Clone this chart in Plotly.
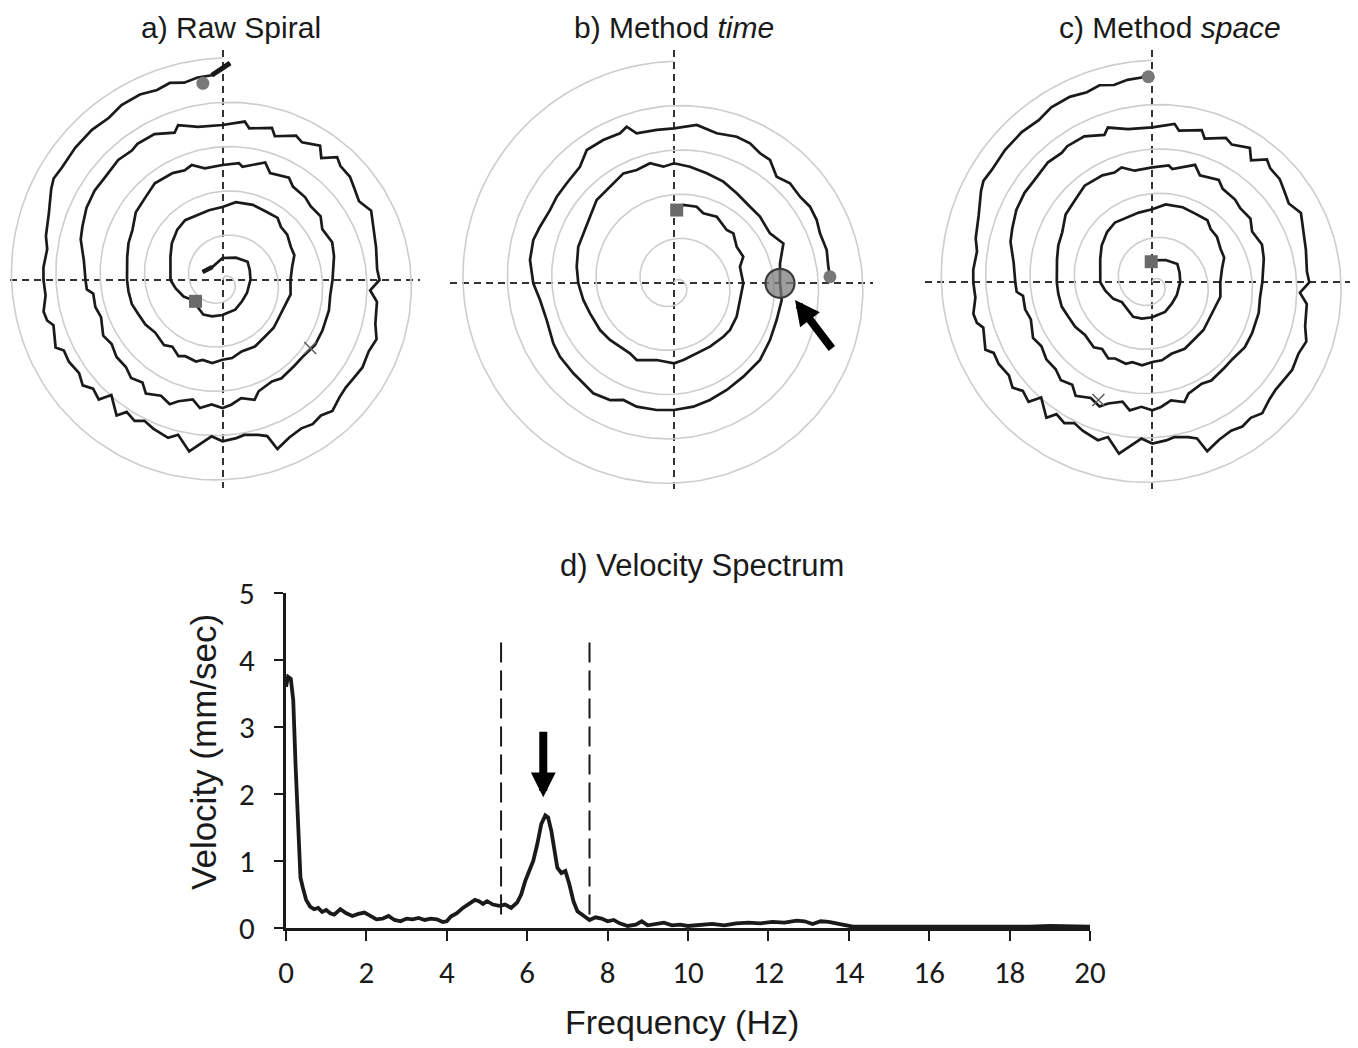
import numpy as np
import plotly.graph_objects as go

W, H = 1358, 1048
OFF = 8  # the page body adds an 8px offset; compensate so paper px match the target

# ------------------------------------------------------------------
# Spiral pen data.
# Each point: (clockwise angle from 12 o'clock, cumulative degrees, radius in tablet units)
# ------------------------------------------------------------------
raw_lead_in = [(-68, 21.5), (-38, 16.5)]
raw_turn0 = [(0, 22), (31, 26), (54, 31), (70, 29), (89, 28), (118, 27.7), (137.5, 28.9),
             (156.7, 32.3), (172, 33.3), (180, 35), (196, 37.8), (209, 39.5), (237, 36.3),
             (247, 42.3), (260, 47.7), (270, 52), (294, 57), (306, 62.6), (318, 67.6),
             (328, 70.5), (349, 71), (360, 73)]
raw_turn1 = [(369.7, 79), (382, 81), (392, 81), (401.6, 83), (407.6, 79), (415, 79), (424, 76),
             (431, 76), (439, 71), (450, 68), (462, 69.6), (471, 67.5), (484, 67.8), (493, 70),
             (503, 70.7), (514, 74), (525, 74), (533, 78.6), (540, 79.7), (547, 83.7), (554, 82.3),
             (558, 85.7), (566, 84.8), (570, 88), (577, 83.4), (582, 87.5), (592, 85.4), (600, 89),
             (608, 90.9), (615, 93.8), (623, 94.7), (630, 95.5), (643.5, 98), (651.5, 101),
             (659, 103), (668, 110), (677, 113), (685, 118), (695, 118), (701, 116), (705, 119),
             (711, 113), (720, 115)]
raw_turn2 = [(728, 118), (730, 115), (740, 125), (744, 117), (753, 122), (757, 117), (765, 117),
             (770, 115), (777, 117), (783, 112), (791, 116), (798, 114), (810, 110), (818, 108.8),
             (826, 110.7), (837, 112), (845, 113), (854, 111), (860, 111.9), (869, 114.6),
             (874, 112.8), (882, 117), (885, 124), (891, 119.6), (896, 125), (900, 128), (905, 125),
             (910, 130), (914, 123), (920, 129), (923, 135), (928, 131), (934, 137), (938, 130),
             (943, 134), (948, 130), (954, 131), (960, 128), (965, 131.6), (973, 127), (978, 130),
             (984, 130), (986, 136), (990, 137), (998, 140), (1006, 147.5), (1011, 150),
             (1018, 154), (1025, 156), (1031, 156), (1039, 159), (1045, 158), (1048, 160.5),
             (1055, 161), (1062, 155), (1064, 161), (1071, 155), (1080, 155)]
raw_turn3 = [(1088, 160), (1090, 154), (1098, 160), (1100, 153), (1107, 162), (1110, 159),
             (1116, 166), (1119, 157), (1123, 168), (1126, 164), (1131, 164), (1136, 160),
             (1140, 157.6), (1145, 164), (1152, 159), (1158, 157), (1166, 155), (1170, 157),
             (1174, 148), (1178, 156), (1186, 159), (1191, 165), (1196, 162.7), (1202, 165),
             (1207, 163.7), (1211, 163.5), (1215, 165.6), (1220, 171), (1224, 167.5), (1228, 170),
             (1232, 168), (1237, 171), (1242, 177.7), (1244, 162.4), (1247, 158.9), (1252, 156.4),
             (1255, 158.7), (1260, 161.3), (1264, 156.7), (1268, 166), (1271, 174.6), (1276, 161),
             (1279, 167), (1285, 164), (1289, 161), (1292, 166), (1296, 163), (1298, 172),
             (1304, 160), (1306, 172), (1310, 169), (1313, 175), (1317, 171), (1322, 174),
             (1326, 173.6), (1328, 180), (1335, 175), (1337, 180), (1340, 181.7), (1345, 177.6),
             (1350, 179), (1354, 179.5), (1360, 178), (1364, 182), (1371, 186), (1378, 194),
             (1381, 197), (1385, 196), (1392, 198), (1399, 199), (1405, 198), (1410, 202),
             (1416, 203), (1421, 201), (1425, 204), (1429, 201), (1433, 204), (1437, 205),
             (1442, 217)]
space_end = [(1439, 210.6)]

time_window = [(2, 73.3), (6.8, 78.9), (16.5, 79.9), (22.7, 75.9), (32.7, 79.1), (44.7, 75),
               (49.9, 77.6), (59.7, 72.6), (69, 74.2), (75.9, 68), (90, 69.3), (104.2, 68),
               (118, 71), (129.8, 72.9), (137.3, 72.7), (150.4, 72.9), (162, 73.6), (173, 77.3),
               (180, 80), (192.7, 78.6), (205.9, 85.3), (212.2, 82.7), (228.5, 85.5), (237.7, 87.5),
               (250.3, 89.2), (259.6, 92.2), (270, 95.7), (279.7, 98.7), (290.9, 102.5),
               (298.9, 103.6), (308.4, 107.2), (317.1, 113.6), (326.5, 115.9), (335.3, 121),
               (341.8, 119.3), (348.7, 122.4), (354.8, 117.1), (360, 120), (367.8, 117.7),
               (376.6, 114.8), (385.9, 113), (394.9, 109.7), (404.8, 107.9), (412.2, 108.8),
               (422.5, 108.2), (430, 116.4), (439.3, 107.9), (450, 106), (458.8, 109),
               (469.7, 109), (480.6, 111.5), (491.7, 115.2), (503.4, 116.3), (513.7, 119),
               (522.9, 122.1), (531.1, 124.9), (540, 126.7), (547.8, 127.9), (556.8, 128.9),
               (563.5, 127.2), (568.7, 133.1), (576.3, 136.4), (582.2, 135), (588.2, 135),
               (597.2, 135.6), (603.6, 134.8), (613.9, 132.5), (622.9, 135), (630, 140.7),
               (639.2, 145.9), (647.1, 147.2), (652.9, 145.5), (660.4, 144), (666.6, 145.8),
               (673, 146.7), (681.1, 149.8), (686.8, 159.3), (693.7, 159.8), (700.2, 159.4),
               (703.2, 163.6), (706, 154.6), (713.6, 154.3), (720, 155), (728.2, 160),
               (735.9, 156), (743.2, 159.4), (748.5, 159.3), (753.5, 155.9), (757.9, 156.3),
               (763.9, 148), (769.2, 153.2), (775.5, 152.9), (780.6, 156.1), (786.1, 156.1),
               (791.1, 154.3), (797.7, 156.3), (803.9, 155.2), (807.6, 156.1)]

# markers: (angle deg, radius)
raw_square, raw_circle, raw_cross = (231.7, 34.4), (354.3, 197.7), (127.8, 111)
time_square, time_circle, time_highlight = (2.1, 73.3), (87.6, 156.1), (90, 106)
space_square, space_circle, space_cross = (-3, 20.6), (-1.1, 205.6), (204.6, 129.5)

# guide spiral template (Archimedean), read: 44.4 units per turn, 5 turns
guide_spacing = 44.4
guide_turns = 5

# ------------------------------------------------------------------
# Velocity spectrum
# ------------------------------------------------------------------
freq_hz = [0.00, 0.05, 0.12, 0.18, 0.24, 0.30, 0.36, 0.42, 0.50, 0.60, 0.70, 0.80, 0.90, 1.00,
           1.10, 1.20, 1.35, 1.50, 1.65, 1.80, 1.95, 2.10, 2.25, 2.40, 2.55, 2.70, 2.85, 3.00,
           3.15, 3.30, 3.45, 3.60, 3.75, 3.90, 4.00, 4.10, 4.25, 4.40, 4.55, 4.70, 4.80, 4.90,
           5.00, 5.15, 5.30, 5.45, 5.60, 5.75, 5.85, 5.95, 6.05, 6.15, 6.25, 6.35, 6.45, 6.52,
           6.60, 6.68, 6.75, 6.85, 6.95, 7.05, 7.15, 7.25, 7.40, 7.55, 7.70, 7.85, 8.00, 8.15,
           8.30, 8.50, 8.70, 8.85, 9.00, 9.20, 9.40, 9.60, 9.80, 10.0, 10.3, 10.6, 10.9, 11.2,
           11.5, 11.8, 12.1, 12.4, 12.7, 12.9, 13.1, 13.3, 13.5, 13.8, 14.1, 14.5, 15.0, 15.5,
           16.0, 16.5, 17.0, 17.5, 18.0, 18.5, 19.0, 19.5, 20.0]
velocity = [3.60, 3.75, 3.72, 3.40, 2.40, 1.40, 0.75, 0.60, 0.42, 0.32, 0.28, 0.30, 0.24, 0.27,
            0.22, 0.20, 0.28, 0.22, 0.18, 0.21, 0.23, 0.18, 0.13, 0.14, 0.18, 0.12, 0.10, 0.14,
            0.13, 0.15, 0.12, 0.14, 0.13, 0.09, 0.10, 0.17, 0.22, 0.30, 0.36, 0.42, 0.40, 0.36,
            0.40, 0.35, 0.33, 0.35, 0.30, 0.38, 0.50, 0.70, 0.85, 1.00, 1.25, 1.55, 1.68, 1.65,
            1.45, 1.15, 0.90, 0.82, 0.85, 0.65, 0.40, 0.25, 0.18, 0.12, 0.16, 0.14, 0.10, 0.12,
            0.07, 0.03, 0.05, 0.10, 0.04, 0.06, 0.08, 0.04, 0.05, 0.03, 0.05, 0.06, 0.04, 0.07,
            0.08, 0.07, 0.09, 0.08, 0.11, 0.10, 0.06, 0.10, 0.09, 0.05, 0.02, 0.02, 0.02, 0.01,
            0.01, 0.01, 0.01, 0.02, 0.02, 0.02, 0.03, 0.02, 0.02]
band_edges_hz = [5.35, 7.55]
band_line_span = [0.2, 4.35]
peak_arrow = (6.4, 2.95, 1.95)   # freq, tail value, tip value

xticks_hz = [0, 2, 4, 6, 8, 10, 12, 14, 16, 18, 20]
yticks_vel = [0, 1, 2, 3, 4, 5]

# ------------------------------------------------------------------
INK = "#1a1a1a"
GUIDE = "#cdcdcd"
FONT = "Liberation Sans, Arial, sans-serif"
TICKFONT = "Carlito, Liberation Sans, Arial, sans-serif"


def fx(px):
    return (px - OFF) / W


def fy(py):
    return 1 - (py - OFF) / H


def to_xy(points):
    a = np.radians([p[0] for p in points])
    r = np.array([p[1] for p in points], dtype=float)
    return r * np.sin(a), r * np.cos(a)


raw_pts = raw_lead_in + raw_turn0 + raw_turn1 + raw_turn2 + raw_turn3
space_pts = [p for p in raw_turn0 + raw_turn1 + raw_turn2 + raw_turn3 if p[0] <= 1437] + space_end

gth = np.arange(0, guide_turns * 360 + 0.1, 2.0)
guide_pts = list(zip(gth, guide_spacing * gth / 360.0))

fig = go.Figure()

panels = [
    # axis suffix, pen points, center px, x extent px, y extent px
    ("", raw_pts, (222.5, 280.0), (10, 420), (50, 488)),
    ("2", time_window, (674.0, 283.3), (450, 873), (50, 490)),
    ("3", space_pts, (1152.3, 282.3), (925, 1353), (50, 493)),
]

layout_axes = {}
for sfx, pts, (cx, cy), (x0, x1), (y0, y1) in panels:
    xa, ya = "x" + sfx, "y" + sfx
    gx, gy = to_xy(guide_pts)
    fig.add_trace(go.Scatter(x=gx, y=gy, mode="lines", line=dict(color=GUIDE, width=1.6),
                             xaxis=xa, yaxis=ya, hoverinfo="skip"))
    px_, py_ = to_xy(pts)
    fig.add_trace(go.Scatter(x=px_, y=py_, mode="lines", line=dict(color=INK, width=2.7),
                             xaxis=xa, yaxis=ya))
    axis_common = dict(tickvals=[0], showticklabels=False, showgrid=True, gridcolor="#333333",
                       gridwidth=1.6, griddash="7px,5px", zeroline=False, showline=False,
                       ticks="")
    layout_axes["xaxis" + sfx] = dict(axis_common, domain=[fx(x0), fx(x1)],
                                      range=[x0 - cx, x1 - cx], anchor=ya)
    layout_axes["yaxis" + sfx] = dict(axis_common, domain=[fy(y1), fy(y0)],
                                      range=[cy - y1, cy - y0], anchor=xa)


def add_marker(pt, sfx, **kw):
    x, y = to_xy([pt])
    fig.add_trace(go.Scatter(x=x, y=y, mode="markers", xaxis="x" + sfx, yaxis="y" + sfx, **kw))


# thick pen-lift marks in panel a
lx, ly = to_xy(raw_lead_in)
fig.add_trace(go.Scatter(x=lx, y=ly, mode="lines", line=dict(color=INK, width=4.5), xaxis="x", yaxis="y"))
ex, ey = to_xy(raw_turn3[-2:])
fig.add_trace(go.Scatter(x=ex, y=ey, mode="lines", line=dict(color=INK, width=5), xaxis="x", yaxis="y"))

sq = dict(symbol="square", size=13, color="#6a6a6a")
ci = dict(symbol="circle", size=13, color="#787878")
cr = dict(symbol="x-thin", size=12, line=dict(color="#606060", width=1.6))

add_marker(raw_square, "", marker=sq)
add_marker(raw_circle, "", marker=ci)
add_marker(raw_cross, "", marker=cr)
add_marker(time_square, "2", marker=sq)
add_marker(time_circle, "2", marker=ci)
add_marker(time_highlight, "2", marker=dict(symbol="circle", size=29, color="rgba(125,125,125,0.75)",
                                            line=dict(color="#3c3c3c", width=2.2)))
add_marker(space_square, "3", marker=sq)
add_marker(space_circle, "3", marker=ci)
add_marker(space_cross, "3", marker=cr)

# ---------------- spectrum ----------------
for f in band_edges_hz:
    fig.add_trace(go.Scatter(x=[f, f], y=band_line_span, mode="lines", xaxis="x4", yaxis="y4",
                             line=dict(color=INK, width=2, dash="20px,8px")))
fig.add_trace(go.Scatter(x=freq_hz, y=velocity, mode="lines", xaxis="x4", yaxis="y4",
                         line=dict(color=INK, width=3.8)))

layout_axes["xaxis4"] = dict(domain=[fx(286), fx(1090)], range=[0, 20], tickvals=xticks_hz,
                             ticks="outside", ticklen=10, tickwidth=2, tickcolor=INK,
                             showline=True, linewidth=3, linecolor=INK, showgrid=False,
                             zeroline=False, anchor="y4", ticklabelstandoff=5,
                             tickfont=dict(family=TICKFONT, size=31, color=INK))
layout_axes["yaxis4"] = dict(domain=[fy(928), fy(593)], range=[0, 5], tickvals=yticks_vel,
                             ticks="outside", ticklen=9, tickwidth=2, tickcolor=INK,
                             showline=True, linewidth=3, linecolor=INK, showgrid=False,
                             zeroline=False, anchor="x4", ticklabelstandoff=13,
                             tickfont=dict(family=TICKFONT, size=31, color=INK))

annotations = [
    dict(text="a) Raw Spiral", x=fx(231), y=fy(27), size=30),
    dict(text="b) Method <i>time</i>", x=fx(674), y=fy(27), size=30),
    dict(text="c) Method <i>space</i>", x=fx(1170), y=fy(27), size=30),
    dict(text="d) Velocity Spectrum", x=fx(702), y=fy(565), size=31),
    dict(text="Frequency (Hz)", x=fx(682), y=fy(1022), size=34),
    dict(text="Velocity (mm/sec)", x=fx(203), y=fy(752), size=35, textangle=-90),
]
for a in annotations:
    a.update(xref="paper", yref="paper", showarrow=False, xanchor="center", yanchor="middle",
             font=dict(family=FONT, size=a.pop("size"), color=INK))

annotations += [
    # arrow pointing to the highlighted sample in panel b
    dict(text="", x=121, y=-16.7, ax=159, ay=-66.7, xref="x2", yref="y2", axref="x2", ayref="y2",
         showarrow=True, arrowhead=2, arrowwidth=8, arrowsize=0.62, arrowcolor="black"),
    # arrow pointing to the tremor peak
    dict(text="", x=peak_arrow[0], y=peak_arrow[2], ax=peak_arrow[0], ay=peak_arrow[1],
         xref="x4", yref="y4", axref="x4", ayref="y4",
         showarrow=True, arrowhead=2, arrowwidth=8, arrowsize=0.62, arrowcolor="black"),
]

fig.update_layout(width=W, height=H, margin=dict(l=0, r=0, t=0, b=0, autoexpand=False),
                  paper_bgcolor="white", plot_bgcolor="white", showlegend=False,
                  annotations=annotations, **layout_axes)

fig.write_html("out.html")
